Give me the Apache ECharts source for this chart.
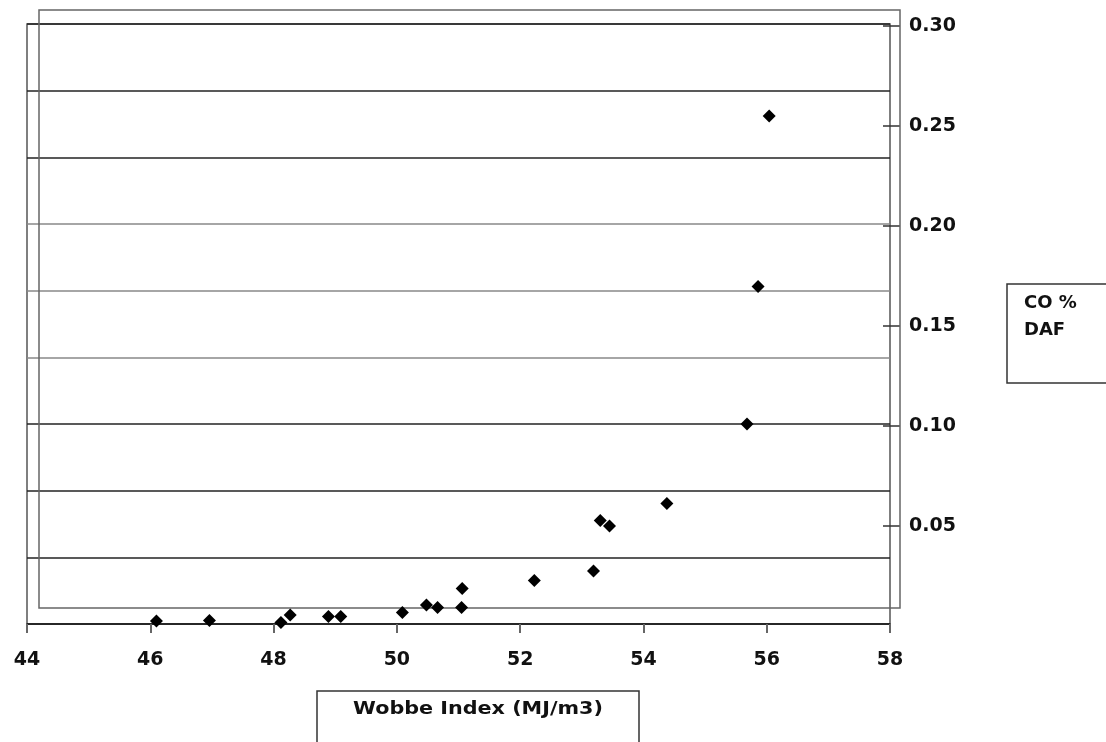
<!DOCTYPE html>
<html>
<head>
<meta charset="utf-8">
<script src="https://cdn.jsdelivr.net/npm/echarts@6/dist/echarts.min.js"></script>
<style>html,body{margin:0;padding:0;background:#fff;}#chart{width:1106px;height:742px;}</style>
</head>
<body>
<div id="chart"></div>
<script>
// Wobbe Index (MJ/m3) vs CO % DAF
const wobbeIndex = [46.10, 46.96, 48.12, 48.27, 48.89, 49.09, 50.09, 50.48, 50.66, 51.05, 51.06, 52.23, 53.19, 53.30, 53.45, 54.38, 55.68, 55.86, 56.04];
const coDAF      = [0.0015, 0.0017, 0.0007, 0.0045, 0.0037, 0.0037, 0.0058, 0.0095, 0.0082, 0.0082, 0.0178, 0.0217, 0.0265, 0.0517, 0.0490, 0.0603, 0.1000, 0.1687, 0.2540];
const xTicks = [44, 46, 48, 50, 52, 54, 56, 58];
const yTickLabels = [0.05, 0.10, 0.15, 0.20, 0.25, 0.30];
const seriesName = 'CO % DAF';
const xTitle = 'Wobbe Index (MJ/m3)';

const points = wobbeIndex.map((x, i) => [x, coDAF[i]]);
const FONT = 'DejaVu Sans';
const chart = echarts.init(document.getElementById('chart'));
chart.setOption({
  animation: false,
  backgroundColor: '#fff',
  grid: [
    { left: 27, right: 216, top: 24, bottom: 118, show: true, borderColor: '#555', borderWidth: 1.5, backgroundColor: 'transparent' },
    { left: 27, right: 223, top: 26, bottom: 216, show: false }
  ],
  xAxis: [
    {
      gridIndex: 0, type: 'value',
      min: xTicks[0], max: xTicks[xTicks.length - 1], interval: xTicks[1] - xTicks[0],
      axisLine: { show: true, onZero: false, lineStyle: { color: '#222', width: 1.5 } },
      axisTick: { show: true, inside: false, length: 9, lineStyle: { color: '#666', width: 2 } },
      axisLabel: { margin: 27, fontFamily: FONT, fontWeight: 'bold', fontSize: 19, color: '#111' },
      splitLine: { show: false }
    },
    { gridIndex: 1, type: 'value', min: 0, max: 1, show: false }
  ],
  yAxis: [
    {
      gridIndex: 0, type: 'value', min: 0, max: 0.3, interval: 0.1 / 3,
      axisLine: { show: false }, axisTick: { show: false }, axisLabel: { show: false },
      splitLine: { show: true, lineStyle: { width: 1.5, color: ['#222', '#222', '#222', '#222', '#888', '#888', '#888', '#222', '#222', '#222'] } }
    },
    {
      gridIndex: 1, type: 'value', position: 'right',
      min: yTickLabels[0], max: yTickLabels[yTickLabels.length - 1], interval: yTickLabels[1] - yTickLabels[0],
      axisLine: { show: false, onZero: false },
      axisTick: { show: true, inside: false, length: 17, lineStyle: { color: '#333', width: 1.5 } },
      axisLabel: { margin: 26, fontFamily: FONT, fontWeight: 'bold', fontSize: 19, color: '#111', formatter: v => v.toFixed(2) },
      splitLine: { show: false }
    }
  ],
  series: [{
    name: seriesName, type: 'scatter', xAxisIndex: 0, yAxisIndex: 0,
    symbol: 'diamond', symbolSize: 13,
    itemStyle: { color: '#000', opacity: 1 },
    data: points, z: 5
  }],
  graphic: [
    { type: 'rect', z: 1, shape: { x: 39, y: 10, width: 861, height: 598 }, style: { fill: 'none', stroke: '#666', lineWidth: 1.5 } },
    { type: 'rect', z: 1, shape: { x: 1007, y: 284, width: 110, height: 99 }, style: { fill: '#fff', stroke: '#333', lineWidth: 1.5 } },
    { type: 'text', z: 2, x: 1024, y: 303, style: { text: 'CO %', font: 'bold 18px "DejaVu Sans"', fill: '#111', textVerticalAlign: 'middle' } },
    { type: 'text', z: 2, x: 1024, y: 330, style: { text: 'DAF', font: 'bold 18px "DejaVu Sans"', fill: '#111', textVerticalAlign: 'middle' } },
    { type: 'rect', z: 1, shape: { x: 317, y: 691, width: 322, height: 80 }, style: { fill: '#fff', stroke: '#333', lineWidth: 1.5 } },
    { type: 'text', z: 2, x: 478, y: 709, scaleX: 1.15, style: { text: xTitle, font: 'bold 18px "DejaVu Sans"', fill: '#111', textAlign: 'center', textVerticalAlign: 'middle' } }
  ]
});
</script>
</body>
</html>
